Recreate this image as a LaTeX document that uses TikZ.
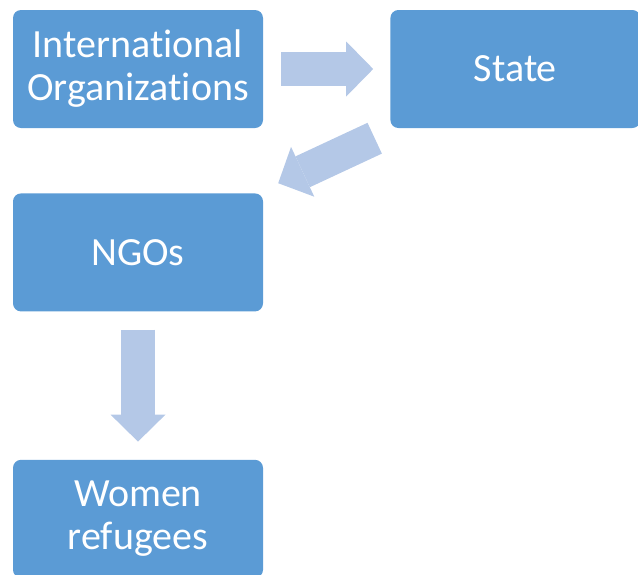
\documentclass[tikz,border=0pt]{standalone}
\usepackage{fontspec}
\setmainfont[Ligatures={NoCommon}]{Carlito}
\usetikzlibrary{positioning}
\usetikzlibrary{arrows.meta}
\usetikzlibrary{calc}

\definecolor{boxblue}{RGB}{91,155,213}
\definecolor{arrowblue}{RGB}{180,200,231}

\begin{document}
\begin{tikzpicture}[x=1pt, y=-1pt,
    block/.style={align=center, rectangle, rounded corners=8pt, fill=boxblue, text=white, minimum width=250pt, minimum height=118pt, font=\fontsize{40}{43}\selectfont},
    flow/.style={draw=arrowblue, line width=34pt, -{Triangle[line width=0pt, length=27pt, width=55pt, fill=arrowblue]}}
]
    \useasboundingbox (0,0) rectangle (638,574);
    \clip (0,0) rectangle (638,574);

    \node[block] (B1) at (138,69) {International\\Organizations};
    \node[block] (B2) [right=127pt of B1] {State};
    \node[block] (B3) [below=65pt of B1] {NGOs};
    \node[block] (B4) [below=148pt of B3] {Women\\refugees};

    \draw[flow] ($(B1.east)+(18,0)$) -- ($(B2.west)+(-17,0)$);
    \draw[flow] ($(B2.south west)+(-15.5,10)$) -- ($(B3.north east)+(15,-10)$);
    \draw[flow] ($(B3.south)+(0,18)$) -- ($(B4.north)+(0,-18)$);

\end{tikzpicture}
\end{document}
